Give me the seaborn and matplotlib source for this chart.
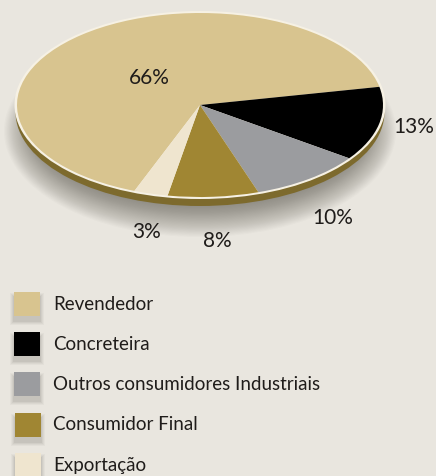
import matplotlib
matplotlib.use('Agg')
import matplotlib.pyplot as plt
from matplotlib.patches import Ellipse, Rectangle
import seaborn as sns

categories = ['Revendedor', 'Concreteira', 'Outros consumidores Industriais', 'Consumidor Final', 'Exportação']
values = [66, 13, 10, 8, 3]
colors = ['#d8c48f', '#000000', '#9b9c9f', '#a08633', '#efe5cf']

BG = '#e9e6df'
W, H = 436, 477
# pixel spots of the percent labels, same order as values
label_pos = [(149, 78), (414, 127), (333, 218), (217, 241), (147, 232)]
swatch_pos = [(14, 293), (14, 333), (14, 373), (15, 414), (15, 454)]
text_y = [305, 345, 385, 425, 466]


def main():
    sns.set_theme(style='white', rc={'figure.facecolor': BG, 'savefig.facecolor': BG})
    plt.rcParams['font.family'] = ['Lato', 'DejaVu Sans']
    fig = plt.figure(figsize=(W / 100, H / 100), dpi=100)

    # background layer in pixel coordinates
    bg = fig.add_axes([0, 0, 1, 1], zorder=1)
    bg.set_xlim(0, W)
    bg.set_ylim(H, 0)
    bg.axis('off')

    # soft shadow under the disc, pushed down so the top stays clean
    steps = 34
    for i in range(steps):
        t = 1 - i / steps
        bg.add_patch(Ellipse((200, 132), 2 * (158 + 38 * t), 2 * (68 + 38 * t),
                             fc='#4a473f', ec='none', alpha=0.022))
    # rim and pale edge
    bg.add_patch(Ellipse((200, 113), 369, 188, fc='#7d6a2d', ec='none'))
    bg.add_patch(Ellipse((200, 106), 371, 188, fc='#f6f1e4', ec='none'))

    # swatches with little shadows
    for (x, y), c in zip(swatch_pos, colors):
        for grow, a in [(4, 0.04), (3, 0.05), (2, 0.06), (1, 0.08)]:
            bg.add_patch(Rectangle((x - grow, y - grow + 5), 26 + 2 * grow, 24 + 2 * grow,
                                   fc='#4a473f', ec='none', alpha=a))
        bg.add_patch(Rectangle((x, y), 26, 24, fc=c, ec='none'))

    # the pie, squashed by its axes
    ax = fig.add_axes([17 / W, 1 - 198 / H, 366 / W, 184 / H], zorder=2)
    ax.pie(values, colors=colors, startangle=249, counterclock=False, radius=1,
           wedgeprops={'edgecolor': 'none', 'linewidth': 0})
    ax.set_aspect('auto')
    ax.set_xlim(-1, 1)
    ax.set_ylim(-1, 1)

    # text goes on top
    top = fig.add_axes([0, 0, 1, 1], zorder=3)
    top.set_xlim(0, W)
    top.set_ylim(H, 0)
    top.axis('off')
    for (x, y), v in zip(label_pos, values):
        top.text(x, y, f'{v}%', ha='center', va='center', fontsize=15, color='#1f1c1a')
    for y, name in zip(text_y, categories):
        top.text(53, y, name, ha='left', va='center', fontsize=13.5, color='#1f1c1a')

    fig.savefig('out.png', dpi=100)


if __name__ == '__main__':
    main()
